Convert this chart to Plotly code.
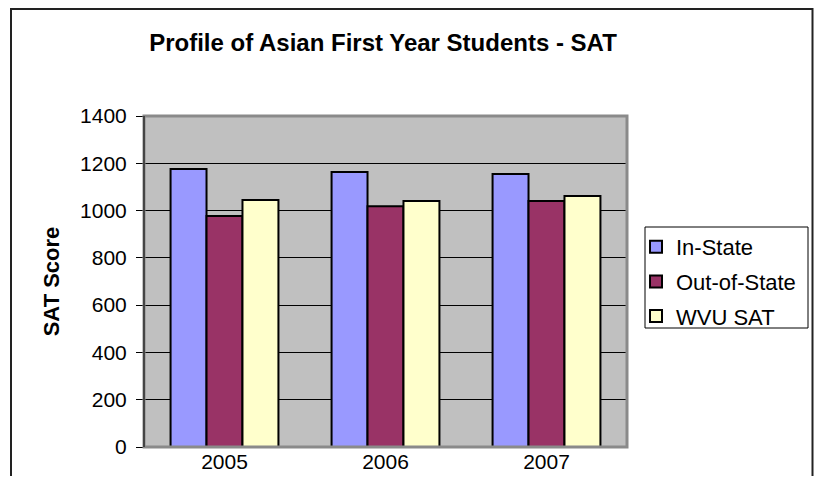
import plotly.graph_objects as go

years = ["2005", "2006", "2007"]
in_state = [1176, 1163, 1155]
out_of_state = [977, 1018, 1041]
wvu_sat = [1045, 1041, 1062]
series_names = ["In-State", "Out-of-State", "WVU SAT"]
colors = ["#9999FF", "#993366", "#FFFFCC"]
y_ticks = [0, 200, 400, 600, 800, 1000, 1200, 1400]

# page body has an 8px margin, so work in shifted pixel coordinates
OFF = 8
W, H = 822 - 2 * OFF, 484 - 2 * OFF
L, R, T, B = 144 - OFF, 627 - OFF, 116 - OFF, 447 - OFF

def px(x):
    return (x - OFF - L) / (R - L)

def py(y):
    return (B - (y - OFF)) / (B - T)

fig = go.Figure()
for i, (name, vals) in enumerate(zip(series_names, [in_state, out_of_state, wvu_sat])):
    fig.add_trace(go.Bar(
        x=years, y=vals, name=name, legendgroup=name,
        marker=dict(color=colors[i], line=dict(color="black", width=2)),
    ))

font = "Liberation Sans, Arial, sans-serif"
fig.update_layout(
    width=W, height=H,
    margin=dict(l=L, r=W - R, t=T, b=H - B, pad=0, autoexpand=False),
    paper_bgcolor="white",
    plot_bgcolor="#C0C0C0",
    barmode="group",
    bargap=0.33,
    bargroupgap=0,
    font=dict(family=font, size=21, color="black"),
    title=dict(text="<b>Profile of Asian First Year Students - SAT</b>",
               x=px(383), xref="paper", xanchor="center",
               y=1 - (43 - OFF) / H, yref="container", yanchor="middle",
               font=dict(size=24, family=font, color="black")),
    showlegend=True,
    legend=dict(x=px(636), xanchor="left", y=py(226), yanchor="top",
                borderwidth=0, bgcolor="rgba(0,0,0,0)",
                font=dict(size=22, family=font),
                traceorder="grouped", tracegroupgap=3,
                itemwidth=30),
    xaxis=dict(showgrid=False, ticks="", showline=False, automargin=False,
               tickfont=dict(size=21), fixedrange=True),
    yaxis=dict(range=[0, 1400], tickvals=y_ticks, showgrid=True, automargin=False,
               gridcolor="black", gridwidth=1, zeroline=False,
               ticks="outside", ticklen=7, tickcolor="black", tickwidth=1,
               ticklabelstandoff=5,
               showline=True, linecolor="black", linewidth=1,
               tickfont=dict(size=21),
               title=dict(text="<b>SAT Score</b>", font=dict(size=22), standoff=14)),
    shapes=[
        dict(type="rect", xref="paper", yref="paper", x0=0, x1=1, y0=0, y1=1,
             line=dict(color="#8A8A8A", width=3), layer="above"),
        dict(type="line", xref="paper", yref="paper", x0=0, x1=0, y0=0, y1=1,
             line=dict(color="black", width=1), layer="above"),
        dict(type="rect", xref="paper", yref="paper",
             x0=px(11), x1=px(812.5), y0=py(500), y1=py(9),
             line=dict(color="#222222", width=2), layer="below"),
        dict(type="rect", xref="paper", yref="paper",
             x0=px(645), x1=px(808), y0=py(328), y1=py(227),
             line=dict(color="black", width=1), fillcolor="white", layer="below"),
    ],
)

fig.write_html("out.html")
